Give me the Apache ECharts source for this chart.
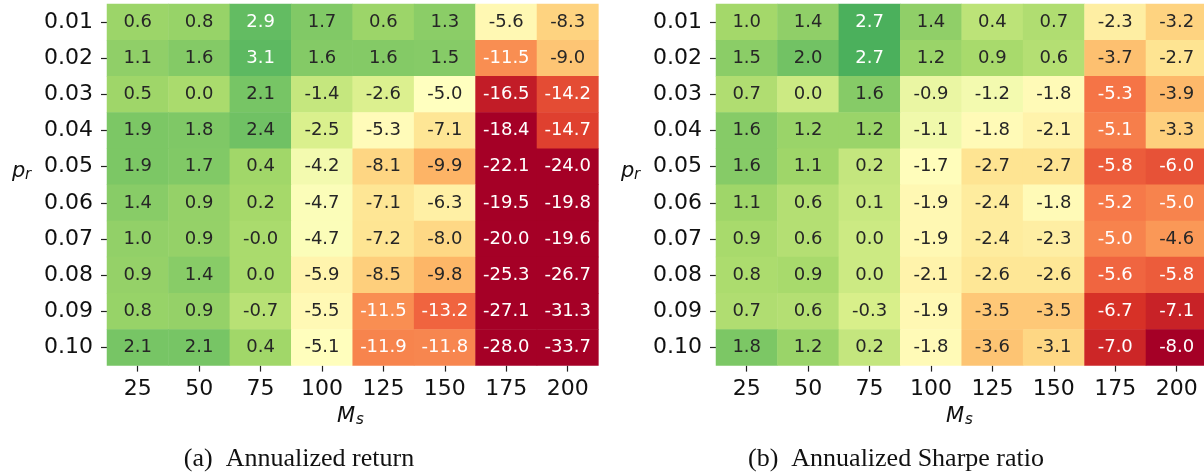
<!DOCTYPE html>
<html><head><meta charset="utf-8">
<script src="https://cdn.jsdelivr.net/npm/echarts@6/dist/echarts.min.js"></script>
<style>html,body{margin:0;padding:0;background:#fff;overflow:hidden}#c{width:1204px;height:474px}</style>
</head><body><div id="c"></div><script>
// ---- data ----
const msLabels = ['25', '50', '75', '100', '125', '150', '175', '200'];
const prLabels = ['0.01', '0.02', '0.03', '0.04', '0.05', '0.06', '0.07', '0.08', '0.09', '0.10'];
// annualized return, rows = p_r, columns = M_s
const returnRows = [
  [0.6, 0.8, 2.9, 1.7, 0.6, 1.3, -5.6, -8.3],
  [1.1, 1.6, 3.1, 1.6, 1.6, 1.5, -11.5, -9.0],
  [0.5, 0.0, 2.1, -1.4, -2.6, -5.0, -16.5, -14.2],
  [1.9, 1.8, 2.4, -2.5, -5.3, -7.1, -18.4, -14.7],
  [1.9, 1.7, 0.4, -4.2, -8.1, -9.9, -22.1, -24.0],
  [1.4, 0.9, 0.2, -4.7, -7.1, -6.3, -19.5, -19.8],
  [1.0, 0.9, -0.02, -4.7, -7.2, -8.0, -20.0, -19.6],
  [0.9, 1.4, 0.0, -5.9, -8.5, -9.8, -25.3, -26.7],
  [0.8, 0.9, -0.7, -5.5, -11.5, -13.2, -27.1, -31.3],
  [2.1, 2.1, 0.4, -5.1, -11.9, -11.8, -28.0, -33.7]
];
// annualized Sharpe ratio
const sharpeRows = [
  [1.0, 1.4, 2.7, 1.4, 0.4, 0.7, -2.3, -3.2],
  [1.5, 2.0, 2.7, 1.2, 0.9, 0.6, -3.7, -2.7],
  [0.7, 0.0, 1.6, -0.9, -1.2, -1.8, -5.3, -3.9],
  [1.6, 1.2, 1.2, -1.1, -1.8, -2.1, -5.1, -3.3],
  [1.6, 1.1, 0.2, -1.7, -2.7, -2.7, -5.8, -6.0],
  [1.1, 0.6, 0.1, -1.9, -2.4, -1.8, -5.2, -5.0],
  [0.9, 0.6, 0.0, -1.9, -2.4, -2.3, -5.0, -4.6],
  [0.8, 0.9, 0.0, -2.1, -2.6, -2.6, -5.6, -5.8],
  [0.7, 0.6, -0.3, -1.9, -3.5, -3.5, -6.7, -7.1],
  [1.8, 1.2, 0.2, -1.8, -3.6, -3.1, -7.0, -8.0]
];
const returnRange = [-18, 8];
const sharpeRange = [-8, 4.8];
const captionA = '(a)  Annualized return';
const captionB = '(b)  Annualized Sharpe ratio';

// ---- styling helpers ----
const RDYLGN = ['#a50026','#d73027','#f46d43','#fdae61','#fee08b','#ffffbf','#d9ef8b','#a6d96a','#66bd63','#1a9850','#006837'];
const SANS = 'DejaVu Sans';
function hex2rgb(h){return [1,3,5].map(i=>parseInt(h.substr(i,2),16));}
function cmap(t){
  t = Math.max(0, Math.min(1, t));
  const p = t*(RDYLGN.length-1), i = Math.min(Math.floor(p), RDYLGN.length-2), f = p-i;
  const a = hex2rgb(RDYLGN[i]), b = hex2rgb(RDYLGN[i+1]);
  return a.map((v,k)=>v+(b[k]-v)*f);
}
function lum(rgb){
  const l = rgb.map(c=>{c/=255;return c<=0.03928?c/12.92:Math.pow((c+0.055)/1.055,2.4);});
  return 0.2126*l[0]+0.7152*l[1]+0.0722*l[2];
}
function toCells(rows){
  const out=[];
  rows.forEach((r,yi)=>r.forEach((v,xi)=>out.push([xi,yi,v])));
  return out;
}
function labelFmt(range){
  return function(p){
    const v=p.value[2];
    const t=(v-range[0])/(range[1]-range[0]);
    const tag = lum(cmap(t)) > 0.408 ? 'd' : 'w';
    return '{'+tag+'|'+v.toFixed(1)+'}';
  };
}
const CW = 491.4, CH = 361.6, TOP = 4;
const grids = [
  {left:107, top:TOP, width:CW, height:CH, outerBoundsMode:'none'},
  {left:716, top:TOP, width:CW, height:CH, outerBoundsMode:'none'}
];
function xAx(gi){
  return {type:'category', gridIndex:gi, data:msLabels, position:'bottom',
    axisLine:{show:false}, splitArea:{show:false}, splitLine:{show:false},
    axisTick:{show:true, alignWithLabel:true, interval:0, length:6, lineStyle:{color:'#222', width:1.2}},
    axisLabel:{interval:0, fontFamily:SANS, fontSize:22, color:'#111', margin:13}};
}
function yAx(gi){
  return {type:'category', gridIndex:gi, data:prLabels, inverse:true,
    axisLine:{show:false}, splitArea:{show:false}, splitLine:{show:false},
    axisTick:{show:true, alignWithLabel:true, interval:0, length:6, lineStyle:{color:'#222', width:1.2}},
    axisLabel:{interval:0, fontFamily:SANS, fontSize:22, color:'#111', margin:14}};
}
function hm(i, rows, range){
  return {type:'heatmap', xAxisIndex:i, yAxisIndex:i, data:toCells(rows),
    itemStyle:{borderWidth:0}, emphasis:{disabled:true}, animation:false,
    label:{show:true, formatter:labelFmt(range),
      rich:{
        w:{color:'#ffffff', fontFamily:SANS, fontSize:18},
        d:{color:'#262626', fontFamily:SANS, fontSize:18}
      }}};
}
function vm(i, range){
  return {type:'continuous', show:false, seriesIndex:i, min:range[0], max:range[1],
    dimension:2, inRange:{color:RDYLGN}};
}
function sym(x, y, main, sub, subDx){
  return [
    {type:'text', left:x, top:y, style:{text:main, font:'italic 21px "DejaVu Sans"', fill:'#111'}},
    {type:'text', left:x+subDx, top:y+7, style:{text:sub, font:'italic 15px "DejaVu Sans"', fill:'#111'}}
  ];
}
const chart = echarts.init(document.getElementById('c'), null, {renderer:'canvas'});
chart.setOption({
  animation:false,
  backgroundColor:'#ffffff',
  grid:grids,
  xAxis:[xAx(0), xAx(1)],
  yAxis:[yAx(0), yAx(1)],
  visualMap:[vm(0, returnRange), vm(1, sharpeRange)],
  series:[hm(0, returnRows, returnRange), hm(1, sharpeRows, sharpeRange)],
  graphic:[].concat(
    sym(12, 161, 'p', 'r', 13),
    sym(621, 161, 'p', 'r', 13),
    sym(337, 406, 'M', 's', 19),
    sym(946, 406, 'M', 's', 19),
    [
      {type:'text', x:299, y:459, style:{text:captionA, font:'26px "Liberation Serif"', fill:'#111', align:'center', verticalAlign:'middle'}},
      {type:'text', x:896, y:459, style:{text:captionB, font:'26px "Liberation Serif"', fill:'#111', align:'center', verticalAlign:'middle'}}
    ]
  )
});
</script></body></html>
